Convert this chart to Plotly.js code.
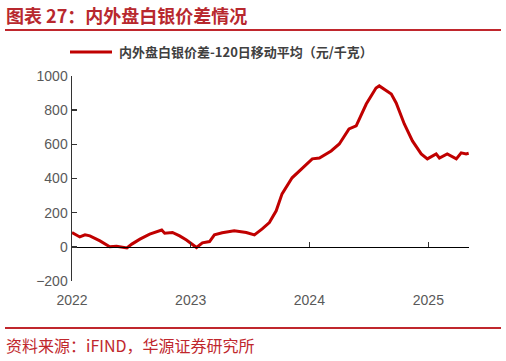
<!DOCTYPE html>
<html>
<head>
<meta charset="utf-8">
<script src="https://cdn.plot.ly/plotly-3.0.1.min.js"></script>
<style>html,body{margin:0;padding:0;background:#fff;}#chart{width:506px;height:361px;}</style>
</head>
<body>
<div id="chart"></div>
<script>
const chartTitle = "图表 27：内外盘白银价差情况";
const seriesName = "内外盘白银价差-120日移动平均（元/千克）";
const sourceText = "资料来源：iFIND，华源证券研究所";
const dates = ["2022-01-01","2022-01-25","2022-02-10","2022-02-25","2022-03-28","2022-04-27","2022-05-18","2022-06-19","2022-07-04","2022-07-29","2022-08-28","2022-10-04","2022-10-13","2022-11-06","2022-11-28","2022-12-19","2023-01-19","2023-02-06","2023-02-28","2023-03-15","2023-04-08","2023-05-15","2023-06-21","2023-07-16","2023-08-09","2023-08-31","2023-09-21","2023-10-09","2023-11-09","2023-12-09","2024-01-10","2024-02-01","2024-03-08","2024-04-02","2024-05-02","2024-05-24","2024-06-24","2024-07-24","2024-08-03","2024-09-09","2024-09-24","2024-10-19","2024-11-13","2024-12-10","2024-12-29","2025-01-25","2025-02-04","2025-02-28","2025-03-28","2025-04-12","2025-04-27","2025-05-05"];
const spread = [84,58,70,64,35,0,4,-6,16,45,74,98,80,84,64,40,-4,23,31,70,82,94,84,70,105,142,211,310,404,456,515,520,561,602,690,708,836,930,942,895,842,719,620,544,515,544,520,544,515,550,544,548];
const yTicks = [-200,0,200,400,600,800,1000];
const xTickVals = ["2022-01-01","2023-01-01","2024-01-01","2025-01-01"];
const xTickText = ["2022","2023","2024","2025"];
const xRange = ["2022-01-01","2025-05-06"];
const yRange = [-200,1000];

const red = "#c00000";
const traces = [
  {x: dates, y: spread, type: "scatter", mode: "lines", name: seriesName,
   line: {color: red, width: 3}, showlegend: false, xaxis: "x", yaxis: "y"},
  {x: [dates[0]], y: [null], type: "scatter", mode: "lines", showlegend: false, xaxis: "x2", yaxis: "y", hoverinfo: "skip"}
];
const L = 72, R = 469, T = 76, B = 281, W = R - L, H = B - T;
const px = v => (v - L) / W;
const py = v => (B - v) / H;
const layout = {
  width: 506, height: 361,
  margin: {l: L, r: 506 - R, t: T, b: 361 - B},
  paper_bgcolor: "#fff", plot_bgcolor: "#fff",
  showlegend: false,
  font: {family: "Liberation Sans, Arial, sans-serif", color: "#595959", size: 13},
  xaxis: {type: "date", range: xRange, tickvals: xTickVals, ticktext: xTickText,
    showgrid: false, zeroline: false, showline: false, ticks: "",
    tickfont: {size: 14, color: "#595959"}, ticklabelstandoff: 9},
  xaxis2: {type: "date", range: xRange, overlaying: "x", anchor: "free", position: (0 - yRange[0]) / (yRange[1] - yRange[0]),
    tickvals: xTickVals, showticklabels: false, showgrid: false, zeroline: false,
    showline: true, linecolor: "#000", linewidth: 1.2, ticks: "inside", ticklen: 5, tickcolor: "#333", tickwidth: 1},
  yaxis: {range: yRange, tickvals: yTicks, showgrid: false, zeroline: false,
    showline: true, linecolor: "#333", linewidth: 1.5, ticks: "inside", ticklen: 5, tickcolor: "#333", tickwidth: 1.5,
    tickfont: {size: 14, color: "#595959"}},
  shapes: [
    {type: "line", xref: "paper", yref: "paper", x0: px(5), x1: px(501), y0: py(30), y1: py(30), line: {color: "#c0272d", width: 2}},
    {type: "line", xref: "paper", yref: "paper", x0: px(5), x1: px(501), y0: py(328), y1: py(328), line: {color: "#c0272d", width: 2}},
    {type: "line", xref: "paper", yref: "paper", x0: px(70), x1: px(112), y0: py(52), y1: py(52), line: {color: red, width: 3}}
  ],
  annotations: [
    {text: "<b>" + chartTitle + "</b>", xref: "paper", yref: "paper", x: px(4), y: py(15), xanchor: "left", yanchor: "middle", showarrow: false,
     font: {family: "Noto Sans CJK SC", size: 18, color: "#b8282e"}},
    {text: "<b>" + seriesName + "</b>", xref: "paper", yref: "paper", x: px(117), y: py(52), xanchor: "left", yanchor: "middle", showarrow: false,
     font: {family: "Noto Sans CJK SC", size: 13, color: "#404040"}},
    {text: sourceText, xref: "paper", yref: "paper", x: px(4), y: py(345), xanchor: "left", yanchor: "middle", showarrow: false,
     font: {family: "Noto Sans CJK SC", size: 16, color: "#c0272d"}}
  ]
};
Plotly.newPlot("chart", traces, layout, {displayModeBar: false, staticPlot: true});
</script>
</body>
</html>
